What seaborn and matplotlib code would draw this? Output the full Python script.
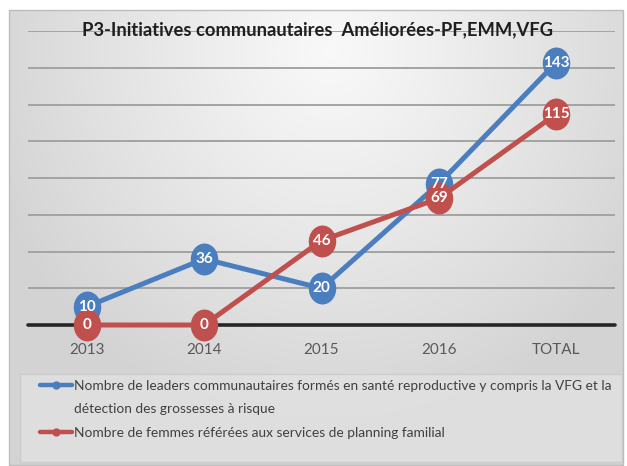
import numpy as np
import pandas as pd
import matplotlib
matplotlib.use("Agg")
import matplotlib.pyplot as plt
import seaborn as sns
from matplotlib.path import Path
from matplotlib.transforms import Affine2D
from matplotlib.lines import Line2D
from matplotlib.patches import Rectangle

# ---------------- data ----------------
categories = ["2013", "2014", "2015", "2016", "TOTAL"]
leaders = [10, 36, 20, 77, 143]
femmes = [0, 0, 46, 69, 115]
series_leaders = ("Nombre de leaders communautaires formés en santé reproductive y compris la VFG et la "
                  "détection des grossesses à risque")
series_femmes = "Nombre de femmes référées aux services de planning familial"
legend_line1 = "Nombre de leaders communautaires formés en santé reproductive y compris la VFG et la"
legend_line2 = "détection des grossesses à risque"
title = "P3-Initiatives communautaires  Améliorées-PF,EMM,VFG"
yticks = [0, 20, 40, 60, 80, 100, 120, 140, 160]

BLUE = "#4a7ebf"
RED = "#c0504d"

sns.set_theme(style="white")
plt.rcParams["font.family"] = ["Liberation Sans Narrow", "DejaVu Sans Condensed", "Lato", "DejaVu Sans"]

W, H = 627, 466
fig = plt.figure(figsize=(W / 100, H / 100), dpi=100)

# ---------- background gradient ----------
bg = fig.add_axes([0, 0, 1, 1], zorder=-10)
yy, xx = np.mgrid[0:H, 0:W]
r = np.sqrt(((xx - 330) / 360.0) ** 2 + ((yy - 50) / 380.0) ** 2)
r = np.clip(r, 0, 1)
val = 0.975 - (0.975 - 0.83) * r ** 1.1
img = np.dstack([val, val, val])
inside = (xx >= 9) & (xx <= 623) & (yy >= 10) & (yy <= 465)
img[~inside] = 1.0
bg.imshow(img, extent=(0, W, H, 0), aspect="auto", interpolation="bilinear")
bg.set_xlim(0, W)
bg.set_ylim(H, 0)
bg.axis("off")
bg.add_patch(Rectangle((9, 10), 614, 455, fill=False, ec="#bdbdbd", lw=1.0))

# ---------- main axes ----------
top_px, bot_px = 31.3, 325
ax = fig.add_axes([28 / W, 1 - bot_px / H, 587 / W, (bot_px - top_px) / H])
ax.patch.set_alpha(0)

df = pd.DataFrame({
    "cat": categories * 2,
    "val": leaders + femmes,
    "serie": [series_leaders] * len(categories) + [series_femmes] * len(categories),
})

ell = Path.unit_circle().transformed(Affine2D().scale(0.86, 1.0))
sns.lineplot(data=df, x="cat", y="val", hue="serie", palette=[BLUE, RED],
             marker=ell, markersize=23, markeredgewidth=0, linewidth=3.6,
             legend=False, sort=False, ax=ax)
for ln in ax.lines:
    ln.set_clip_on(False)
    ln.set_zorder(3)

for i, v in enumerate(leaders):
    ax.text(i, v, str(v), ha="center", va="center", color="white",
            fontsize=11, fontweight="bold", zorder=6)
for i, v in enumerate(femmes):
    ax.text(i, v, str(v), ha="center", va="center", color="white",
            fontsize=11, fontweight="bold", zorder=6)

ax.set_xlim(-0.5, len(categories) - 0.5)
ax.set_ylim(0, 160)
ax.set_yticks(yticks)
ax.set_yticklabels([])
ax.yaxis.grid(True, color="#a3a3a3", lw=1.4)
ax.xaxis.grid(False)
ax.set_axisbelow(True)
ax.axhline(0, color="#262626", lw=2.6, zorder=2.5, clip_on=False)
for s in ax.spines.values():
    s.set_visible(False)
ax.tick_params(axis="x", length=0, pad=13, labelsize=11, labelcolor="#595959")
ax.tick_params(axis="y", length=0)
ax.set_xlabel("")
ax.set_ylabel("")

# ---------- title ----------
fig.text(318 / W, 1 - 30 / H, title, ha="center", va="center",
         fontsize=13.2, fontweight="bold", color="#1f1f1f")

# ---------- legend ----------
fig.add_artist(Rectangle((20 / W, 1 - 462 / H), (622 - 20) / W, (462 - 374) / H,
                         transform=fig.transFigure, fc="#e6e6e6", ec="#c4c4c4",
                         lw=1.0, alpha=0.6, zorder=0))
handles = [
    Line2D([0], [0], color=BLUE, lw=3.2, marker="o", markersize=5),
    Line2D([0], [0], color="none", lw=0),
    Line2D([0], [0], color=RED, lw=3.2, marker="o", markersize=5),
]
labels = [legend_line1, legend_line2, series_femmes]
fig.legend(handles, labels, loc="upper left", bbox_to_anchor=(40 / W, 1 - 380 / H),
           frameon=False, fontsize=9.9, handlelength=2.3, handletextpad=0.15,
           labelspacing=0.82, borderpad=0, borderaxespad=0, labelcolor="#404040")

fig.savefig("out.png", dpi=100)
